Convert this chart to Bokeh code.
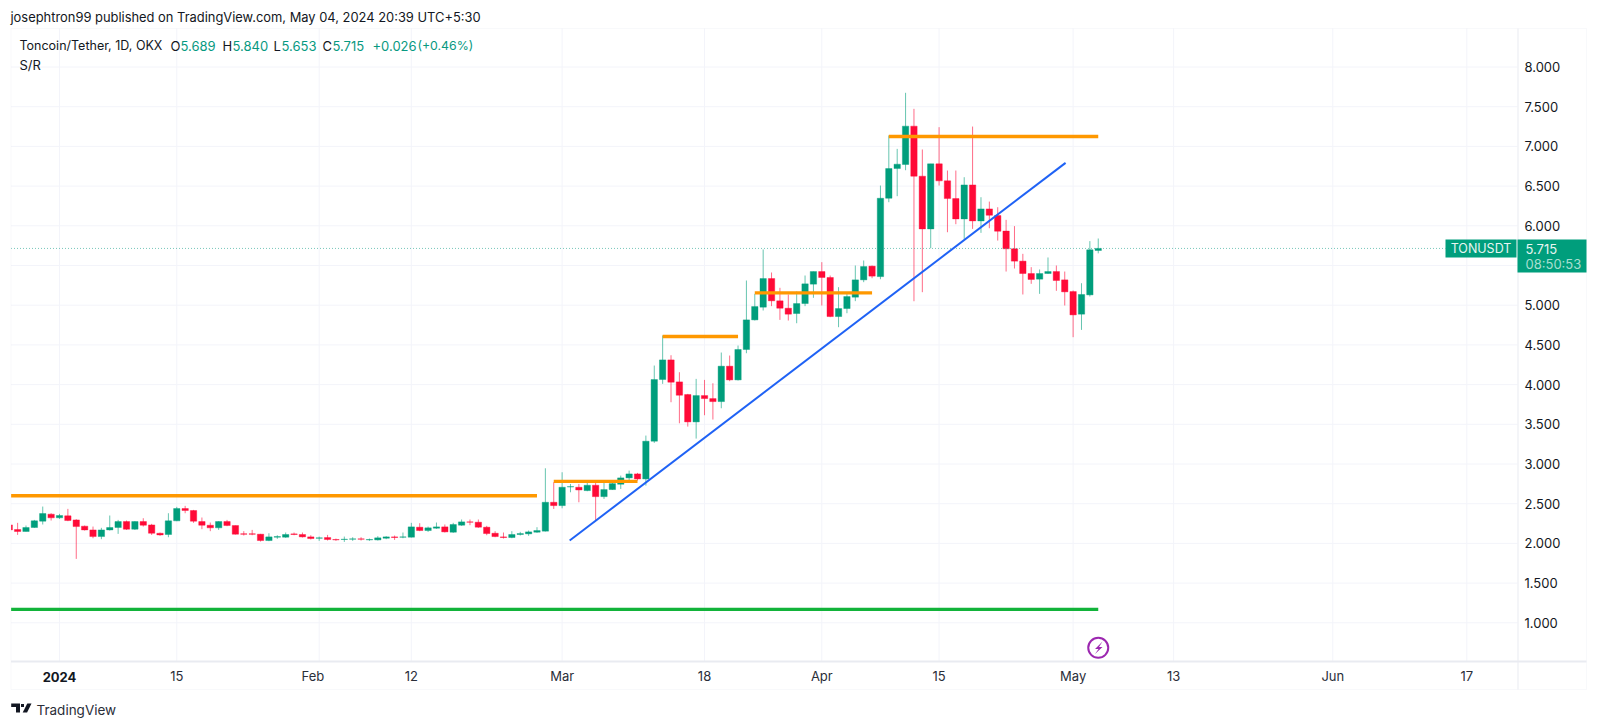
from bokeh.plotting import figure
from bokeh.embed import file_html
from bokeh.resources import INLINE
from bokeh.models import (Range1d, FixedTicker, NumeralTickFormatter, Label, PolyAnnotation,
                          ColumnDataSource)

FONT = "Inter"
UP = "#009e7c"
DOWN = "#ff0a37"
TXT = "#131722"
GRID = "#f3f4fa"
EDGE = "#e9ebf1"
TEAL = "#089981"

days = list(range(-6, 125))
open_ = [2.233,2.175,2.150,2.200,2.280,2.368,2.322,2.347,2.296,2.217,2.170,2.086,2.170,2.200,2.275,2.179,2.275,2.233,2.128,2.112,
 2.284,2.439,2.414,2.275,2.229,2.196,2.275,2.225,2.120,2.120,2.116,2.036,2.078,2.078,2.120,2.112,2.082,2.065,2.074,2.049,
 2.049,2.053,2.057,2.044,2.044,2.065,2.082,2.078,2.078,2.204,2.162,2.191,2.208,2.141,2.229,2.271,2.267,2.204,2.128,2.082,
 2.074,2.112,2.120,2.141,2.154,2.518,2.476,2.711,2.707,2.665,2.732,2.589,2.678,2.745,2.825,2.875,2.812,3.287,4.064,4.311,
 4.034,3.875,3.530,3.862,3.824,3.786,4.232,4.059,4.442,4.815,4.975,5.336,5.055,4.962,4.895,5.021,5.265,5.424,5.349,4.857,
 4.958,5.101,5.319,5.492,5.360,6.347,6.721,6.772,7.255,6.625,5.961,6.780,6.566,6.343,6.087,6.515,6.062,6.213,6.129,5.933,
 5.710,5.555,5.399,5.328,5.399,5.424,5.319,5.172,4.887,5.130,5.689]
high = [2.267,2.259,2.225,2.296,2.464,2.380,2.372,2.435,2.305,2.225,2.212,2.196,2.351,2.296,2.288,2.280,2.317,2.246,2.137,2.380,
 2.460,2.473,2.422,2.326,2.263,2.280,2.296,2.225,2.154,2.170,2.120,2.128,2.103,2.137,2.137,2.137,2.103,2.086,2.107,2.061,
 2.086,2.078,2.078,2.061,2.091,2.091,2.099,2.137,2.259,2.254,2.212,2.263,2.238,2.259,2.301,2.301,2.301,2.221,2.154,2.137,
 2.154,2.145,2.162,2.204,2.946,2.770,2.896,2.749,2.749,2.770,2.774,2.783,2.774,2.854,2.917,2.888,3.358,4.240,4.618,4.370,
 4.156,3.883,4.072,4.059,4.017,4.404,4.366,4.492,5.311,5.143,5.702,5.412,5.219,5.135,5.172,5.374,5.424,5.542,5.374,5.227,
 5.151,5.500,5.563,5.500,6.507,7.137,6.969,7.675,7.473,6.961,6.780,7.242,6.696,6.696,6.612,7.250,6.360,6.305,6.234,6.075,
 5.996,5.647,5.479,5.450,5.601,5.500,5.424,5.185,5.277,5.807,5.840]
low = [2.120,2.107,2.150,2.196,2.238,2.288,2.309,2.280,1.805,2.162,2.065,2.053,2.162,2.120,2.170,2.170,2.212,2.107,2.095,2.078,
 2.280,2.380,2.259,2.179,2.154,2.170,2.217,2.112,2.099,2.103,2.023,2.028,2.057,2.070,2.103,2.074,2.049,2.032,2.036,2.032,
 2.019,2.032,2.036,2.032,2.036,2.053,2.044,2.065,2.074,2.154,2.145,2.183,2.137,2.133,2.221,2.229,2.196,2.103,2.078,2.061,
 2.065,2.099,2.095,2.133,2.150,2.434,2.442,2.644,2.518,2.657,2.287,2.560,2.673,2.686,2.774,2.791,2.728,3.266,4.009,3.778,
 3.513,3.471,3.320,3.614,3.560,3.702,4.043,4.051,4.395,4.807,4.933,4.988,4.815,4.807,4.773,4.988,5.093,4.996,4.849,4.723,
 4.899,5.051,5.290,5.340,5.327,6.297,6.373,6.700,5.050,5.164,5.717,6.507,5.919,6.020,5.835,5.961,5.911,5.969,5.814,5.424,
 5.462,5.135,5.269,5.143,5.395,5.181,4.996,4.597,4.689,5.109,5.653]
close = [2.170,2.150,2.200,2.284,2.376,2.322,2.351,2.288,2.212,2.170,2.086,2.170,2.200,2.275,2.179,2.275,2.229,2.128,2.107,2.284,
 2.439,2.414,2.280,2.229,2.196,2.275,2.225,2.116,2.116,2.116,2.036,2.082,2.086,2.112,2.112,2.082,2.061,2.070,2.049,2.044,
 2.053,2.057,2.053,2.049,2.070,2.082,2.074,2.082,2.208,2.162,2.196,2.208,2.145,2.238,2.271,2.267,2.204,2.124,2.086,2.074,
 2.112,2.124,2.145,2.162,2.518,2.476,2.707,2.715,2.673,2.732,2.589,2.678,2.753,2.825,2.875,2.812,3.287,4.064,4.311,4.030,
 3.866,3.530,3.862,3.824,3.786,4.232,4.059,4.442,4.815,4.983,5.336,5.055,4.962,4.887,5.021,5.269,5.424,5.349,4.857,4.958,
 5.109,5.319,5.487,5.366,6.347,6.721,6.776,7.255,6.625,5.961,6.780,6.566,6.343,6.087,6.515,6.062,6.213,6.133,5.932,5.710,
 5.555,5.399,5.324,5.399,5.424,5.311,5.168,4.878,5.135,5.697,5.715]

# support / resistance lines: (start day, end day, price)
sr_orange = [(-6, 57, 2.60), (59, 69, 2.78), (72, 81, 4.606), (83, 97, 5.156), (99, 124, 7.125)]
sr_green = (-6, 124, 1.168)
trend_days = [60.9, 120.1]
trend_price = [2.036, 6.793]
last_price = 5.715

y_ticks = [1.0, 1.5, 2.0, 2.5, 3.0, 3.5, 4.0, 4.5, 5.0, 5.5, 6.0, 6.5, 7.0, 7.5, 8.0]
x_grid = [0, 14, 31, 42, 60, 77, 91, 105, 121, 133, 152, 168]
x_ticks = [0, 14, 30.25, 42, 60, 77, 91, 105, 121, 133, 152, 168]
x_labels = ["", "15", "Feb", "12", "Mar", "18", "Apr", "15", "May", "13", "Jun", "17"]

W, H = 1600, 727
FL, FR, FT, FB = 10.5, 1517, 28, 661   # pane edges on the page
PX_DAY = 8.377


def day_at(px):
    return (px - 59) / PX_DAY


def price_at(py):
    return 1 + (622.3 - py) / 79.4


def sx(px):
    return px


def sy(py):
    return H - py


# The plot area covers the whole page, so marks can sit in the margins of the chart.
p = figure(width=W, height=H, output_backend="svg", toolbar_location=None,
           x_range=Range1d(day_at(0), day_at(W)), y_range=Range1d(price_at(H), price_at(0)),
           y_axis_location="right",
           min_border_left=0, min_border_right=0, min_border_top=0, min_border_bottom=0)
p.outline_line_color = None
p.background_fill_color = "white"
p.grid.visible = False

for ax, ticks in ((p.xaxis[0], x_ticks), (p.yaxis[0], y_ticks)):
    ax.ticker = FixedTicker(ticks=ticks)
    ax.major_tick_line_color = None
    ax.minor_tick_line_color = None
    ax.axis_line_color = None
    ax.major_label_text_font = FONT
    ax.major_label_text_font_size = "13px"
    ax.major_label_text_color = TXT
p.xaxis[0].major_label_standoff = 0
p.yaxis[0].major_label_standoff = 1
p.xaxis[0].fixed_location = price_at(FB)
p.yaxis[0].fixed_location = day_at(FR)
p.xaxis[0].major_label_overrides = dict(zip(x_ticks, x_labels))
p.xaxis[0].major_label_text_color = "#2a2e39"
p.yaxis[0].formatter = NumeralTickFormatter(format="0.000")

# grid lines, limited to the pane
p.segment(x_grid, [price_at(FB)] * len(x_grid), x_grid, [price_at(FT)] * len(x_grid),
          line_color=GRID, line_width=1)
p.segment([day_at(FL)] * len(y_ticks), y_ticks, [day_at(FR)] * len(y_ticks), y_ticks,
          line_color=GRID, line_width=1)

color = [UP if c >= o else DOWN for o, c in zip(open_, close)]
src = ColumnDataSource(dict(x=days, o=open_, h=high, l=low, c=close, color=color,
                            top=[max(a, b) for a, b in zip(open_, close)],
                            bot=[min(a, b) for a, b in zip(open_, close)]))

p.segment("x", "h", "x", "l", source=src, line_color="color", line_width=1, line_alpha=0.6)
p.vbar(x="x", width=0.76, top="top", bottom="bot", source=src, fill_color="color",
       line_color="color", line_width=0.4)

p.line([day_at(FL), day_at(1445)], [last_price, last_price], line_color=TEAL, line_alpha=0.55,
       line_width=1, line_dash="1 2")

for a, b, lvl in sr_orange:
    p.line([a, b], [lvl, lvl], line_color="#ff9800", line_width=3.3)
p.line(sr_green[:2], [sr_green[2]] * 2, line_color="#12b33a", line_width=3.3)
p.line(trend_days, trend_price, line_color="#1f62f5", line_width=2)


def text(s, px, py, color=TXT, size="13px", style="normal", align="left", baseline="middle"):
    p.add_layout(Label(x=sx(px), y=sy(py), x_units="screen", y_units="screen", text=s,
                       text_color=color, text_font=FONT, text_font_size=size,
                       text_font_style=style, text_align=align, text_baseline=baseline))


def poly(xs, ys, fill, line=None, width=0):
    p.add_layout(PolyAnnotation(xs=[sx(v) for v in xs], ys=[sy(v) for v in ys],
                                xs_units="screen", ys_units="screen",
                                fill_color=fill, fill_alpha=1 if fill else 0,
                                line_color=line, line_width=width))


# mask what falls left of the pane, then the chart frame and its separators
poly([0, FL, FL, 0], [FT, FT, FB, FB], "white")
poly([FL, 1586, 1586, FL], [FT, FT, 689, 689], None, EDGE, 1)
poly([FL, 1586, 1586, FL], [660, 660, 662, 662], EDGE)
poly([FR, FR + 1, FR + 1, FR], [FT, FT, 689, 689], EDGE)

# header, legend
text("josephtron99 published on TradingView.com, May 04, 2024 20:39 UTC+5:30", 10, 17, size="12.9px")
text("Toncoin/Tether, 1D, OKX", 19, 45, size="12.5px")
text("O", 170, 45)
text("5.689", 180, 45, TEAL)
text("H", 222, 45)
text("5.840", 232, 45, TEAL)
text("L", 273, 45)
text("5.653", 281, 45, TEAL)
text("C", 322, 45)
text("5.715", 332, 45, TEAL)
text("+0.026", 372, 45, TEAL)
text("(+0.46%)", 417, 45, TEAL, size="12.3px")
text("S/R", 19, 64)

# bold year on the time axis
text("2024", 59, 676, TXT, "13px", "bold", "center")

# last-price tags
poly([1445, 1516, 1516, 1445], [239, 239, 257, 257], "#009e7c")
poly([1517, 1586, 1586, 1517], [239, 239, 272, 272], "#009e7c")
text("TONUSDT", 1480.5, 248, "#e8f5f1", "12.5px", "normal", "center")
text("5.715", 1525, 248, "#e8f5f1")
text("08:50:53", 1525, 263, "#a9ded0")

# lightning marker
p.scatter([124], [price_at(647.3)], size=20, marker="circle", fill_color="white",
          line_color="#9c27b0", line_width=2)
poly([1102, 1094.5, 1098, 1094.5, 1102, 1098.5], [641, 648.5, 648.5, 653.5, 646.5, 646.5], "#9c27b0")

# TradingView logo and name
poly([10.7, 19.5, 19.5, 15.5, 15.5, 10.7], [703, 703, 712, 712, 706.5, 706.5], TXT)
poly([26.8, 31, 26.6, 22.2], [703, 703, 712, 712], TXT)
poly([20.5, 23.5, 23.5, 20.5], [703.4, 703.4, 706.6, 706.6], TXT)
text("TradingView", 36, 709, "#2a2e39", "13.5px")

open("out.html", "w").write(file_html(p, INLINE))
